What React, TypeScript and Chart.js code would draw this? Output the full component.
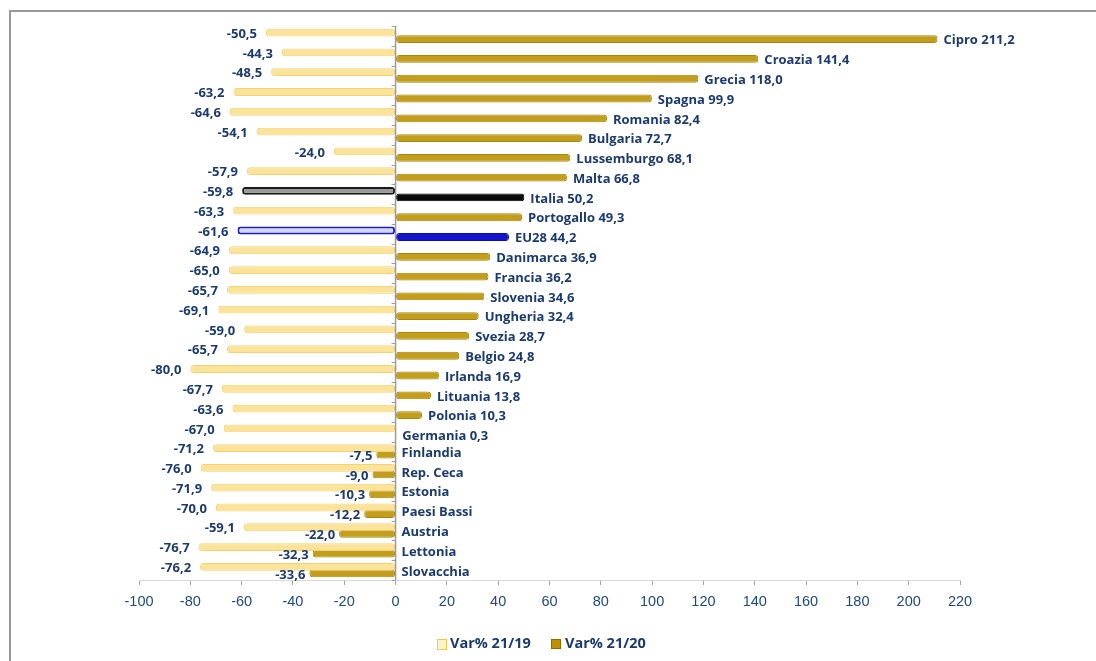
import React, { useEffect, useRef } from "react";
import { Chart, registerables } from "chart.js";

Chart.register(...registerables);

const categories = [
  "Cipro", "Croazia", "Grecia", "Spagna", "Romania", "Bulgaria", "Lussemburgo",
  "Malta", "Italia", "Portogallo", "EU28", "Danimarca", "Francia", "Slovenia",
  "Ungheria", "Svezia", "Belgio", "Irlanda", "Lituania", "Polonia", "Germania",
  "Finlandia", "Rep. Ceca", "Estonia", "Paesi Bassi", "Austria", "Lettonia", "Slovacchia",
];

const var2119 = [
  -50.5, -44.3, -48.5, -63.2, -64.6, -54.1, -24.0, -57.9, -59.8, -63.3, -61.6, -64.9,
  -65.0, -65.7, -69.1, -59.0, -65.7, -80.0, -67.7, -63.6, -67.0, -71.2, -76.0, -71.9,
  -70.0, -59.1, -76.7, -76.2,
];

const var2120 = [
  211.2, 141.4, 118.0, 99.9, 82.4, 72.7, 68.1, 66.8, 50.2, 49.3, 44.2, 36.9, 36.2,
  34.6, 32.4, 28.7, 24.8, 16.9, 13.8, 10.3, 0.3, -7.5, -9.0, -10.3, -12.2, -22.0,
  -32.3, -33.6,
];

const xTicks = [-100, -80, -60, -40, -20, 0, 20, 40, 60, 80, 100, 120, 140, 160, 180, 200, 220];

const seriesNames = ["Var% 21/19", "Var% 21/20"];

const LABEL_COLOR = "#1B3A6E";

const fmt = (v: number) => v.toFixed(1).replace(".", ",");

const color19 = categories.map((c) => (c === "Italia" ? "#9A9A9A" : c === "EU28" ? "#D4D7F4" : "#FBE39A"));
const border19 = categories.map((c) => (c === "Italia" ? "#1A1A1A" : c === "EU28" ? "#1A1AC8" : "#F3D274"));
const bw19 = categories.map((c) => (c === "Italia" || c === "EU28" ? 2 : 1));
const color20 = categories.map((c) => (c === "Italia" ? "#0A0A0A" : c === "EU28" ? "#1414C8" : "#C29E1C"));
const border20 = categories.map((c) => (c === "Italia" ? "#000000" : c === "EU28" ? "#0D0DA8" : "#A8870F"));

const zeroLinePlugin = {
  id: "zeroLine",
  afterDatasetsDraw(chart: any) {
    const { ctx, chartArea, scales } = chart;
    const x0 = scales.x.getPixelForValue(0);
    ctx.save();
    ctx.strokeStyle = "#9C9C9C";
    ctx.lineWidth = 1.5;
    ctx.beginPath();
    ctx.moveTo(x0, chartArea.top);
    ctx.lineTo(x0, chartArea.bottom);
    ctx.stroke();
    ctx.lineWidth = 1;
    const n = categories.length;
    const h = (chartArea.bottom - chartArea.top) / n;
    for (let i = 0; i <= n; i++) {
      const y = Math.round(chartArea.top + i * h) + 0.5;
      ctx.beginPath();
      ctx.moveTo(x0 - 4, y);
      ctx.lineTo(x0, y);
      ctx.stroke();
    }
    ctx.restore();
  },
};

const labelPlugin = {
  id: "barLabels",
  afterDatasetsDraw(chart: any) {
    const ctx = chart.ctx;
    const x0 = chart.scales.x.getPixelForValue(0);
    ctx.save();
    ctx.font = "bold 13px 'Open Sans'";
    ctx.fillStyle = LABEL_COLOR;
    ctx.textBaseline = "middle";
    const m0 = chart.getDatasetMeta(0);
    const m1 = chart.getDatasetMeta(1);
    m0.data.forEach((el: any, i: number) => {
      ctx.textAlign = "right";
      ctx.fillText(fmt(var2119[i]), el.x - 9, el.y + 1.5);
    });
    m1.data.forEach((el: any, i: number) => {
      const v = var2120[i];
      if (v >= 0) {
        ctx.textAlign = "left";
        ctx.fillText(categories[i] + " " + fmt(v), el.x + 6, el.y + 1.5);
      } else {
        ctx.textAlign = "right";
        ctx.fillText(fmt(v), el.x - 4, el.y + 1.5);
        ctx.textAlign = "left";
        ctx.fillText(categories[i], x0 + 6, el.y - 1.5);
      }
    });
    ctx.restore();
  },
};

const legendPlugin = {
  id: "customLegend",
  afterDraw(chart: any) {
    const ctx = chart.ctx;
    ctx.save();
    ctx.font = "bold 14.5px 'Open Sans'";
    ctx.textBaseline = "middle";
    ctx.textAlign = "left";
    const y = 644;
    ctx.fillStyle = "#FFF2CC";
    ctx.fillRect(437, 639, 9, 10);
    ctx.strokeStyle = "#F5C842";
    ctx.lineWidth = 1;
    ctx.strokeRect(437.5, 639.5, 9, 10);
    ctx.fillStyle = LABEL_COLOR;
    ctx.fillText(seriesNames[0], 450, y);
    ctx.fillStyle = "#C09000";
    ctx.fillRect(551, 639, 10, 10);
    ctx.strokeStyle = "#8A6D00";
    ctx.strokeRect(551.5, 639.5, 9, 9);
    ctx.fillStyle = LABEL_COLOR;
    ctx.fillText(seriesNames[1], 565, y);
    ctx.restore();
  },
};

export default function App() {
  const ref = useRef<HTMLCanvasElement | null>(null);

  useEffect(() => {
    if (!ref.current) return;
    const chart = new Chart(ref.current, {
      type: "bar",
      data: {
        labels: categories,
        datasets: [
          {
            label: seriesNames[0],
            data: var2119,
            backgroundColor: color19,
            borderColor: border19,
            borderWidth: bw19,
            borderRadius: 3,
            borderSkipped: false,
            categoryPercentage: 0.66,
            barPercentage: 1.2,
          },
          {
            label: seriesNames[1],
            data: var2120,
            backgroundColor: color20,
            borderColor: border20,
            borderWidth: 1,
            borderRadius: 3,
            borderSkipped: false,
            categoryPercentage: 0.66,
            barPercentage: 1.2,
          },
        ],
      },
      options: {
        indexAxis: "y",
        responsive: false,
        animation: false,
        maintainAspectRatio: false,
        layout: { padding: { left: 139, right: 136, top: 26, bottom: 41 } },
        plugins: {
          legend: { display: false },
          tooltip: { enabled: false },
        },
        scales: {
          x: {
            min: -100,
            max: 220,
            afterBuildTicks: (scale: any) => {
              scale.ticks = xTicks.map((v) => ({ value: v }));
            },
            afterFit: (scale: any) => {
              scale.height = 40;
            },
            grid: {
              drawOnChartArea: false,
              drawTicks: true,
              tickLength: 5,
              color: "#A0A0A0",
            },
            border: { display: true, color: "#D9D9D9" },
            ticks: {
              padding: 8,
              color: "#1F497D",
              font: { family: "Liberation Sans, Arial", size: 14.5 },
              maxRotation: 0,
              autoSkip: false,
            },
          },
          y: {
            display: false,
            grid: { display: false },
          },
        },
      },
      plugins: [zeroLinePlugin, labelPlugin, legendPlugin],
    } as any);
    return () => chart.destroy();
  }, []);

  return (
    <div
      style={{
        position: "absolute",
        left: 0,
        top: 0,
        width: 1096,
        height: 661,
        overflow: "hidden",
        background: "#FFFFFF",
      }}
    >
      <div
        style={{
          position: "absolute",
          left: 9,
          top: 10,
          width: 1300,
          height: 900,
          borderLeft: "2px solid #999999",
          borderTop: "2px solid #999999",
        }}
      />
      <canvas
        ref={ref}
        width={1096}
        height={661}
        style={{ position: "absolute", left: 0, top: 0, width: 1096, height: 661 }}
      />
    </div>
  );
}
